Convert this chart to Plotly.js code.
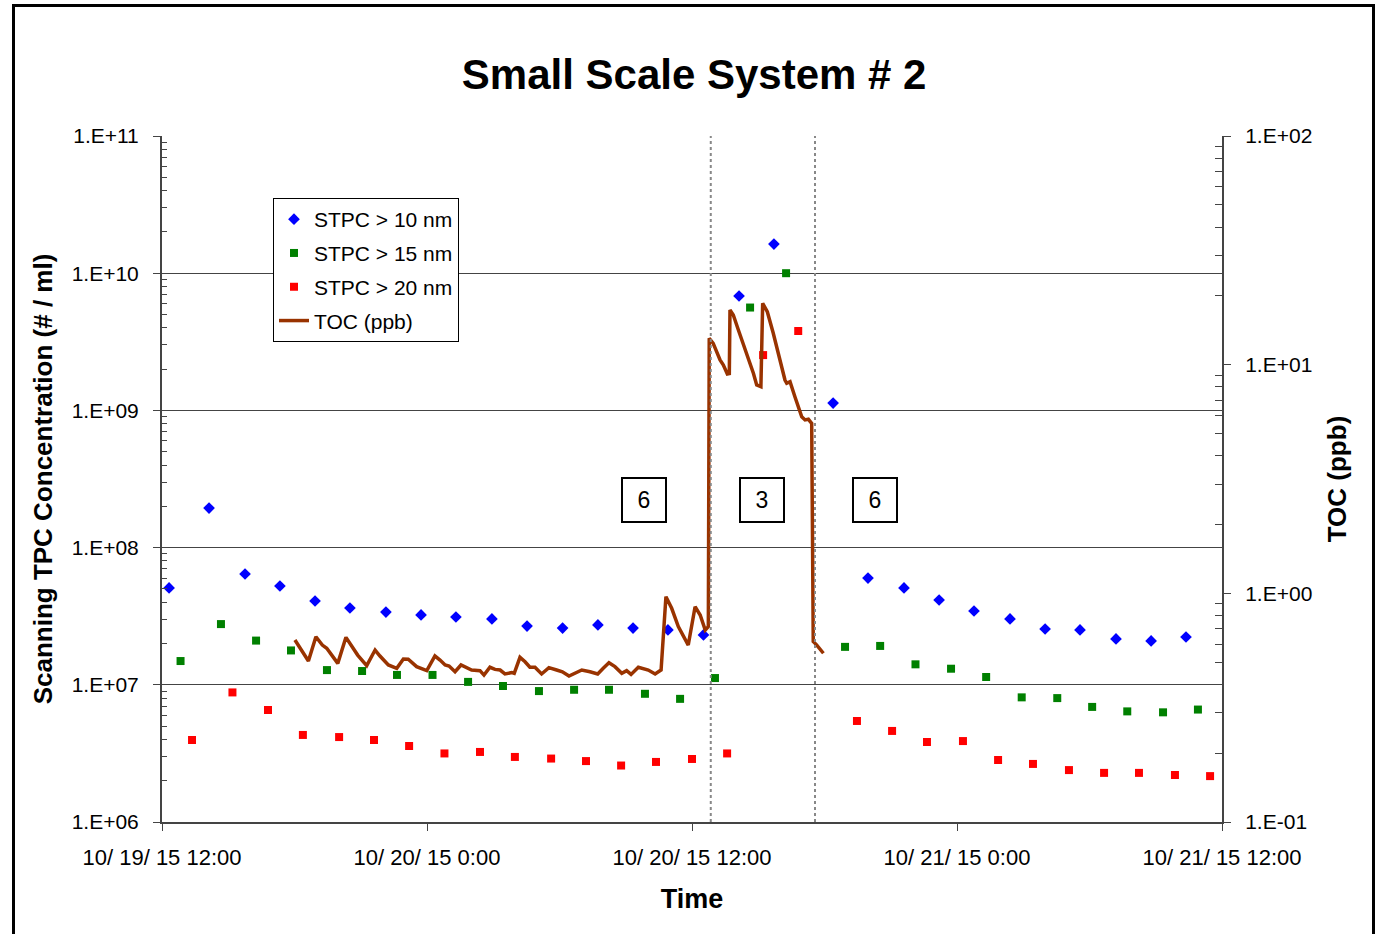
<!DOCTYPE html>
<html>
<head>
<meta charset="utf-8">
<script src="https://cdn.plot.ly/plotly-3.0.1.min.js"></script>
<style>
  html, body { margin: 0; padding: 0; background: #fff; }
  #chart { position: absolute; left: 0; top: 0; width: 1380px; height: 934px; }
  #frame { position: absolute; left: 12px; top: 4px; width: 1357px; height: 960px;
           border: 3px solid #000; pointer-events: none; }
</style>
</head>
<body>
<div id="chart"></div>
<div id="frame"></div>
<script>
// Time axis: hours after 10/19/15 12:00
const xTickVals = [0, 12, 24, 36, 48];
const xTickText = ["10/ 19/ 15 12:00", "10/ 20/ 15 0:00", "10/ 20/ 15 12:00", "10/ 21/ 15 0:00", "10/ 21/ 15 12:00"];
const yTickVals = [1e6, 1e7, 1e8, 1e9, 1e10, 1e11];
const yTickText = ["1.E+06", "1.E+07", "1.E+08", "1.E+09", "1.E+10", "1.E+11"];
const y2TickVals = [0.1, 1, 10, 100];
const y2TickText = ["1.E-01", "1.E+00", "1.E+01", "1.E+02"];

// STPC > 10 nm
const stpc10Hours = [0.32, 2.13, 3.76, 5.34, 6.93, 8.51, 10.14, 11.73, 13.31, 14.94, 16.53, 18.14, 19.74, 21.33, 22.91, 24.52, 26.13, 27.71, 30.39, 31.97, 33.60, 35.19, 36.77, 38.40, 39.99, 41.57, 43.20, 44.79, 46.37];
const stpc10Vals = [5.08e7, 1.94e8, 6.42e7, 5.25e7, 4.08e7, 3.63e7, 3.39e7, 3.23e7, 3.12e7, 3.02e7, 2.68e7, 2.59e7, 2.73e7, 2.59e7, 2.51e7, 2.31e7, 6.82e9, 1.63e10, 1.13e9, 6.00e7, 5.08e7, 4.15e7, 3.45e7, 3.02e7, 2.55e7, 2.51e7, 2.16e7, 2.09e7, 2.23e7];

// STPC > 15 nm
const stpc15Hours = [0.84, 2.67, 4.26, 5.84, 7.47, 9.06, 10.64, 12.25, 13.86, 15.44, 17.07, 18.66, 20.24, 21.87, 23.46, 25.04, 26.63, 28.26, 30.93, 32.52, 34.12, 35.73, 37.32, 38.93, 40.54, 42.12, 43.71, 45.33, 46.91];
const stpc15Vals = [1.49e7, 2.77e7, 2.10e7, 1.78e7, 1.28e7, 1.26e7, 1.18e7, 1.18e7, 1.05e7, 9.8e6, 9.0e6, 9.2e6, 9.2e6, 8.6e6, 7.9e6, 1.12e7, 5.62e9, 1.00e10, 1.89e7, 1.92e7, 1.41e7, 1.31e7, 1.14e7, 8.1e6, 8.0e6, 6.9e6, 6.4e6, 6.3e6, 6.6e6];

// STPC > 20 nm
const stpc20Hours = [1.36, 3.19, 4.80, 6.38, 8.02, 9.60, 11.19, 12.79, 14.40, 15.98, 17.62, 19.20, 20.79, 22.37, 24.00, 25.59, 27.22, 28.81, 31.47, 33.06, 34.64, 36.27, 37.86, 39.44, 41.07, 42.66, 44.24, 45.87, 47.46];
const stpc20Vals = [3.96e6, 8.8e6, 6.55e6, 4.31e6, 4.16e6, 3.96e6, 3.58e6, 3.16e6, 3.24e6, 2.98e6, 2.90e6, 2.78e6, 2.58e6, 2.74e6, 2.88e6, 3.16e6, 2.53e9, 3.79e9, 5.45e6, 4.61e6, 3.83e6, 3.89e6, 2.83e6, 2.65e6, 2.39e6, 2.28e6, 2.28e6, 2.20e6, 2.16e6];

// TOC (ppb)
const tocHours = [6.02, 6.63, 6.97, 7.26, 7.46, 7.96, 8.33, 8.59, 8.86, 9.27,
  9.65, 9.87, 10.25, 10.63, 10.93, 11.15, 11.53, 11.99, 12.36, 12.59,
  12.82, 13.00, 13.27, 13.54, 13.80, 14.02, 14.40, 14.58, 14.85, 15.08,
  15.31, 15.53, 15.84, 15.95, 16.21, 16.44, 16.66, 16.89, 17.19, 17.52,
  17.87, 18.13, 18.43, 18.70, 19.01, 19.38, 19.73, 19.98, 20.24, 20.51,
  20.82, 21.04, 21.24, 21.57, 22.02, 22.33, 22.60, 22.82, 23.08, 23.38,
  23.83, 24.14, 24.37, 24.60, 24.74, 24.78, 24.96, 25.27, 25.42, 25.60,
  25.69, 25.72, 25.87, 26.10, 26.40, 26.78, 26.93, 27.12, 27.20, 27.41,
  27.68, 27.99, 28.21, 28.29, 28.44, 28.66, 28.97, 29.12, 29.27, 29.42,
  29.49, 29.65, 29.95];
const tocVals = [0.625, 0.506, 0.646, 0.594, 0.575, 0.494, 0.642, 0.584, 0.537, 0.483,
  0.565, 0.532, 0.486, 0.470, 0.516, 0.515, 0.478, 0.459, 0.532, 0.511,
  0.486, 0.481, 0.454, 0.486, 0.475, 0.462, 0.459, 0.439, 0.475, 0.465,
  0.462, 0.444, 0.450, 0.447, 0.525, 0.502, 0.475, 0.475, 0.444, 0.473,
  0.462, 0.454, 0.435, 0.447, 0.462, 0.454, 0.444, 0.470, 0.497, 0.478,
  0.447, 0.459, 0.442, 0.475, 0.462, 0.444, 0.462, 0.967, 0.860, 0.715,
  0.594, 0.874, 0.804, 0.691, 0.715, 13.04, 12.40, 10.48, 9.97, 9.10,
  9.14, 17.34, 16.49, 14.18, 11.79, 9.17, 8.15, 8.01, 18.55, 17.04,
  13.72, 10.48, 8.57, 8.29, 8.43, 7.24, 5.92, 5.73, 5.77, 5.54,
  0.615, 0.594, 0.547];

// Period boxes
const periodLabels = ["6", "3", "6"];
const periodHours = [21.83, 27.17, 32.29];
const switchHours = [24.85, 29.57];

const FONT = "Liberation Sans, Arial, sans-serif";

function minorVals(lo, hi) {
  const v = [];
  for (let e = lo; e < hi; e++) for (let m = 2; m <= 9; m++) v.push(m * Math.pow(10, e));
  return v;
}

const traces = [
  { x: stpc10Hours, y: stpc10Vals, name: "STPC > 10 nm", type: "scatter", mode: "markers",
    marker: { symbol: "diamond", size: 9, color: "#0000FF" }, legendgroup: "a" },
  { x: stpc15Hours, y: stpc15Vals, name: "STPC > 15 nm", type: "scatter", mode: "markers",
    marker: { symbol: "square", size: 8, color: "#008000" }, legendgroup: "b" },
  { x: stpc20Hours, y: stpc20Vals, name: "STPC > 20 nm", type: "scatter", mode: "markers",
    marker: { symbol: "square", size: 8, color: "#FF0000" }, legendgroup: "c" },
  { x: tocHours, y: tocVals, name: "TOC (ppb)", type: "scatter", mode: "lines", yaxis: "y2",
    line: { color: "#993300", width: 3.5 }, legendgroup: "d" }
];

const shapes = switchHours.map(h => ({
  type: "line", xref: "x", yref: "paper", x0: h, x1: h, y0: 0, y1: 1,
  line: { color: "#888", width: 2, dash: "dot" }
}));

const annotations = periodLabels.map((t, i) => ({
  x: periodHours[i], y: 8.347, xref: "x", yref: "y", text: t, showarrow: false,
  font: { family: FONT, size: 23, color: "#000" },
  bordercolor: "#000", borderwidth: 2, borderpad: 0, width: 42, height: 42,
  bgcolor: "#fff"
}));

const layout = {
  width: 1380, height: 934,
  margin: { l: 162, r: 158, t: 136, b: 112 },
  paper_bgcolor: "#fff", plot_bgcolor: "#fff",
  font: { family: FONT, color: "#000" },
  title: { text: "<b>Small Scale System # 2</b>", font: { family: FONT, size: 42, color: "#000" },
           x: 0.503, xanchor: "center", y: 0.92, yanchor: "middle", yref: "container" },
  showlegend: true,
  legend: { x: 0.1047, y: 0.9096, xanchor: "left", yanchor: "top", bgcolor: "#fff",
            bordercolor: "#000", borderwidth: 1, font: { family: FONT, size: 21, color: "#000" },
            traceorder: "grouped", tracegroupgap: 3.5 },
  xaxis: {
    range: [0, 48], tickmode: "array", tickvals: xTickVals, ticktext: xTickText,
    ticks: "outside", ticklen: 7, tickwidth: 1, tickcolor: "#444",
    showline: true, linecolor: "#444", linewidth: 2, showgrid: false, zeroline: false,
    tickfont: { family: FONT, size: 22, color: "#000" }, ticklabelstandoff: 8,
    title: { text: "<b>Time</b>", font: { family: FONT, size: 27, color: "#000" }, standoff: 20 }
  },
  yaxis: {
    type: "log", range: [6, 11], tickmode: "array", tickvals: yTickVals, ticktext: yTickText,
    ticks: "outside", ticklen: 7, tickwidth: 1, tickcolor: "#444",
    showline: true, linecolor: "#444", linewidth: 2,
    showgrid: true, gridcolor: "#444", gridwidth: 1, zeroline: false,
    minor: { tickmode: "array", tickvals: minorVals(6, 11), ticks: "inside", ticklen: 5,
             tickcolor: "#444", showgrid: false },
    tickfont: { family: FONT, size: 21, color: "#000" }, ticklabelstandoff: 10,
    title: { text: "<b>Scanning TPC Concentration (# / ml)</b>", font: { family: FONT, size: 26, color: "#000" }, standoff: 12 }
  },
  yaxis2: {
    type: "log", range: [-1, 2], overlaying: "y", side: "right", tickmode: "array",
    tickvals: y2TickVals, ticktext: y2TickText,
    ticks: "outside", ticklen: 7, tickwidth: 1, tickcolor: "#444",
    showline: true, linecolor: "#444", linewidth: 2, showgrid: false, zeroline: false,
    minor: { tickmode: "array", tickvals: minorVals(-1, 2), ticks: "inside", ticklen: 7,
             tickcolor: "#444", showgrid: false },
    tickfont: { family: FONT, size: 21, color: "#000" }, ticklabelstandoff: 10,
    title: { text: "<b>TOC (ppb)</b>", font: { family: FONT, size: 26, color: "#000" }, standoff: 16 }
  },
  shapes: shapes,
  annotations: annotations
};

Plotly.newPlot("chart", traces, layout, { staticPlot: true, displayModeBar: false });
</script>
</body>
</html>
